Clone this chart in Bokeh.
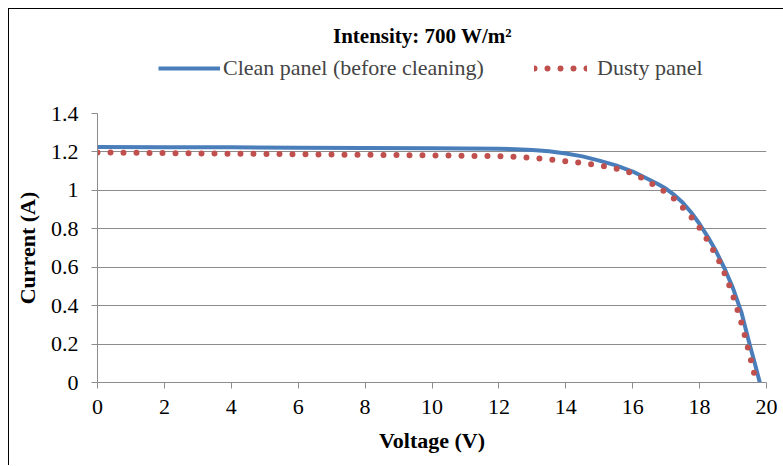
from bokeh.plotting import figure
from bokeh.layouts import column
from bokeh.models import Range1d, FixedTicker, Legend, LegendItem, Label
from bokeh.embed import file_html
from bokeh.resources import INLINE

# ---- data ----
voltage_clean = [0, 2, 4, 6, 8, 10, 11, 12, 12.5, 13, 13.5, 14, 14.5, 15, 15.5, 16, 16.5,
                 16.75, 17, 17.25, 17.5, 17.75, 18, 18.25, 18.5, 18.75, 19, 19.25, 19.5,
                 19.65, 19.8]
current_clean = [1.226, 1.225, 1.224, 1.222, 1.221, 1.219, 1.218, 1.216, 1.214, 1.210, 1.203,
                 1.192, 1.177, 1.155, 1.130, 1.098, 1.055, 1.033, 1.008, 0.975, 0.935, 0.885,
                 0.825, 0.757, 0.680, 0.592, 0.490, 0.365, 0.195, 0.100, 0.0]

voltage_dusty = [0, 2, 4, 6, 8, 10, 12, 13, 13.4, 13.8, 14.2, 14.6, 15.0, 15.4, 15.8, 16.1,
                 16.4, 16.7, 17.05, 17.35, 17.6, 17.87, 18.1, 18.3, 18.5, 18.67, 18.82, 18.96,
                 19.08, 19.2, 19.31, 19.4, 19.5, 19.59, 19.7]
current_dusty = [1.197, 1.194, 1.191, 1.188, 1.185, 1.182, 1.178, 1.170, 1.163, 1.155, 1.148,
                 1.140, 1.130, 1.117, 1.100, 1.080, 1.053, 1.021, 0.983, 0.940, 0.890, 0.838,
                 0.780, 0.721, 0.661, 0.600, 0.537, 0.471, 0.407, 0.341, 0.274, 0.210, 0.142,
                 0.076, 0.0]

x_ticks = [0, 2, 4, 6, 8, 10, 12, 14, 16, 18, 20]
y_ticks = [0, 0.2, 0.4, 0.6, 0.8, 1.0, 1.2, 1.4]
y_tick_labels = ["0", "0.2", "0.4", "0.6", "0.8", "1", "1.2", "1.4"]

series_names = ["Clean panel (before cleaning)", "Dusty panel"]
title_text = "Intensity: 700 W/m\u00b2"
x_label = "Voltage (V)"
y_label = "Current (A)"

FONT = "Liberation Serif"
GRID = "#8c8c8c"
BLUE = "#4A7EBB"
RED = "#C0504D"
W = 774
HEAD_H = 80
MAIN_H = 376
NAN = float("nan")

# ---- header: title + legend (its frame is aligned with the chart frame) ----
h = figure(width=W, height=HEAD_H, output_backend="svg", toolbar_location=None,
           x_range=Range1d(97, 766), y_range=Range1d(0, HEAD_H),
           x_axis_type=None, y_axis_type=None,
           min_border_left=88, min_border_right=17, min_border_top=0, min_border_bottom=0)
h.outline_line_color = None
h.grid.visible = False

s1 = h.line(x=[NAN], y=[NAN], line_width=4, line_color=BLUE)
s2 = h.line(x=[NAN], y=[NAN], line_width=6, line_color=RED, line_dash="0 13", line_cap="round")

leg1 = Legend(items=[LegendItem(label=series_names[0], renderers=[s1])],
              location=(61, 8), glyph_width=62, glyph_height=24, label_height=24,
              label_standoff=3, padding=0, margin=0, border_line_color=None,
              background_fill_alpha=0, label_text_font=FONT, label_text_font_size="22px")
leg2 = Legend(items=[LegendItem(label=series_names[1], renderers=[s2])],
              location=(437, 8), glyph_width=53, glyph_height=24, label_height=24,
              label_standoff=10, padding=0, margin=0, border_line_color=None,
              background_fill_alpha=0, label_text_font=FONT, label_text_font_size="22px")
h.add_layout(leg1)
h.add_layout(leg2)

title = Label(x=422, y=54, text=title_text, text_align="center",
              text_baseline="alphabetic", text_font=FONT, text_font_size="21px",
              text_font_style="bold", text_color="black")
h.add_layout(title)

# ---- main chart ----
p = figure(width=W, height=MAIN_H, output_backend="svg", toolbar_location=None,
           x_range=Range1d(0, 20), y_range=Range1d(0, 1.4),
           min_border_left=88, min_border_right=17, min_border_top=24, min_border_bottom=83)
p.outline_line_color = None

p.xaxis.ticker = FixedTicker(ticks=x_ticks)
p.yaxis.ticker = FixedTicker(ticks=y_ticks)
p.yaxis.major_label_overrides = {t: l for t, l in zip(y_ticks, y_tick_labels)}
for ax in (p.xaxis[0], p.yaxis[0]):
    ax.axis_line_color = GRID
    ax.major_tick_line_color = GRID
    ax.major_tick_out = 6
    ax.major_tick_in = 0
    ax.minor_tick_line_color = None
    ax.major_label_text_font = FONT
    ax.major_label_text_font_size = "22px"
    ax.major_label_text_color = "black"
    ax.axis_label_text_font = FONT
    ax.axis_label_text_font_size = "22px"
    ax.axis_label_text_font_style = "bold"
    ax.axis_label_text_color = "black"
p.xaxis.axis_label = x_label
p.yaxis.axis_label = y_label
p.xaxis.major_label_standoff = 11
p.yaxis.major_label_standoff = 13
p.xaxis.axis_label_standoff = 11
p.yaxis.axis_label_standoff = 8

p.xgrid.visible = False
p.ygrid.ticker = FixedTicker(ticks=y_ticks)
p.ygrid.grid_line_color = GRID
p.ygrid.grid_line_width = 1

r1 = p.line(voltage_clean, current_clean, line_width=4, line_color=BLUE, line_join="round")
r2 = p.line(voltage_dusty, current_dusty, line_width=6, line_color=RED,
            line_dash="0 13", line_cap="round")

layout = column(h, p, margin=(8, 0, 0, 8),
                styles={"border-left": "1px solid black", "border-top": "1px solid black"})

open("out.html", "w").write(file_html(layout, INLINE))
